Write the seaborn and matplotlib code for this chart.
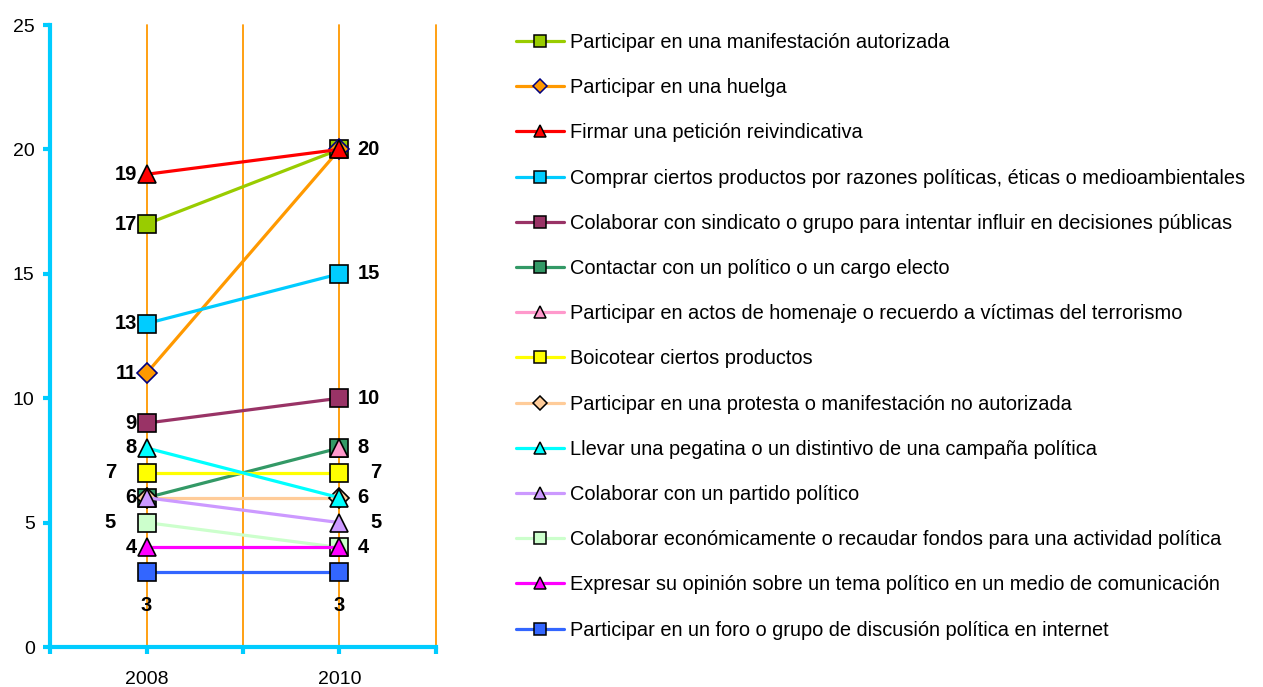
import matplotlib
matplotlib.use("Agg")
import matplotlib.pyplot as plt
import seaborn as sns
import pandas as pd
from matplotlib.lines import Line2D

# data
years = ["2008", "2010"]
series = [
    "Participar en una manifestación autorizada",
    "Participar en una huelga",
    "Firmar una petición reivindicativa",
    "Comprar ciertos productos por razones políticas, éticas o medioambientales",
    "Colaborar con sindicato o grupo para intentar influir en decisiones públicas",
    "Contactar con un político o un cargo electo",
    "Participar en actos de homenaje o recuerdo a víctimas del terrorismo",
    "Boicotear ciertos productos",
    "Participar en una protesta o manifestación no autorizada",
    "Llevar una pegatina o un distintivo de una campaña política",
    "Colaborar con un partido político",
    "Colaborar económicamente o recaudar fondos para una actividad política",
    "Expresar su opinión sobre un tema político en un medio de comunicación",
    "Participar en un foro o grupo de discusión política en internet",
]
# the homenaje series has no visible 2008 point/line in the reference
v2008 = [17, 11, 19, 13, 9, 6, None, 7, 6, 8, 6, 5, 4, 3]
v2010 = [20, 20, 20, 15, 10, 8, 8, 7, 6, 6, 5, 4, 4, 3]

colors = ["#99CC00", "#FF9900", "#FF0000", "#00CCFF", "#993366", "#339966",
          "#FF99CC", "#FFFF00", "#FFCC99", "#00FFFF", "#CC99FF", "#CCFFCC",
          "#FF00FF", "#3366FF"]
markers = ["s", "D", "^", "s", "s", "s", "^", "s", "D", "^", "^", "s", "^", "s"]
edges = ["black", "#000080"] + ["black"] * 12

xpos = {"2008": 1, "2010": 3}

sns.set_theme(style="white")
plt.rcParams["font.family"] = ["Liberation Sans", "DejaVu Sans"]
plt.rcParams["text.color"] = "black"

fig = plt.figure(figsize=(12.63, 6.87), dpi=100)
ax = fig.add_axes([50 / 1263, 40 / 687, 386 / 1263, 622 / 687])

for gx in [1, 2, 3, 4]:
    ax.axvline(gx, color="#FF9900", linewidth=1.3, zorder=1, clip_on=False)

for i, name in enumerate(series):
    df = pd.DataFrame({"x": [xpos[y] for y in years], "v": [v2008[i], v2010[i]]}).dropna()
    sns.lineplot(data=df, x="x", y="v", ax=ax, color=colors[i], linewidth=2.3,
                 marker=markers[i], markersize=12.5 if markers[i] != "D" else 10,
                 markerfacecolor=colors[i], markeredgecolor=edges[i],
                 markeredgewidth=1.2, zorder=3 + i, clip_on=False)

# value labels
far = {7, 5}
for year, vals in zip(years, [v2008, v2010]):
    x = xpos[year]
    for v in sorted(set(v for v in vals if v is not None)):
        if v == 3:
            ax.annotate(str(v), (x, v), xytext=(0, -24), textcoords="offset points",
                        ha="center", va="center", fontsize=14.5, fontweight="bold",
                        color="black")
            continue
        if year == "2008":
            dx = -22 if v in far else -7
            ha = "right"
        else:
            dx = 22 if v in far else 13
            ha = "left"
        ax.annotate(str(v), (x, v), xytext=(dx, 0), textcoords="offset points",
                    ha=ha, va="center", fontsize=14.5, fontweight="bold",
                    color="black", zorder=20)

ax.set_xlim(0, 4)
ax.set_ylim(0, 25)
ax.set_xticks([0, 1, 2, 3, 4])
ax.set_xticklabels(["", "2008", "", "2010", ""])
ax.set_yticks([0, 5, 10, 15, 20, 25])
ax.set_xlabel("")
ax.set_ylabel("")
ax.grid(False)
for s in ["top", "right"]:
    ax.spines[s].set_visible(False)
for s in ["left", "bottom"]:
    ax.spines[s].set_color("#00CCFF")
    ax.spines[s].set_linewidth(3)
ax.tick_params(axis="both", colors="#00CCFF", width=3, length=5, direction="out",
               labelcolor="black", labelsize=14, bottom=True, left=True)
ax.tick_params(axis="x", pad=12)
ax.tick_params(axis="y", pad=6)

handles = [Line2D([0], [0], color=colors[i], lw=2.3, marker=markers[i],
                  markersize=8.5 if markers[i] != "D" else 7,
                  markerfacecolor=colors[i], markeredgecolor=edges[i],
                  markeredgewidth=1.1)
           for i in range(len(series))]
fig.legend(handles, series, loc="upper left", bbox_to_anchor=(508 / 1263, 1 - 25 / 687),
           frameon=False, fontsize=14.4, handlelength=2.4, handletextpad=0.3,
           labelspacing=1.31, borderaxespad=0, labelcolor="black")

fig.savefig("out.png", dpi=100)
